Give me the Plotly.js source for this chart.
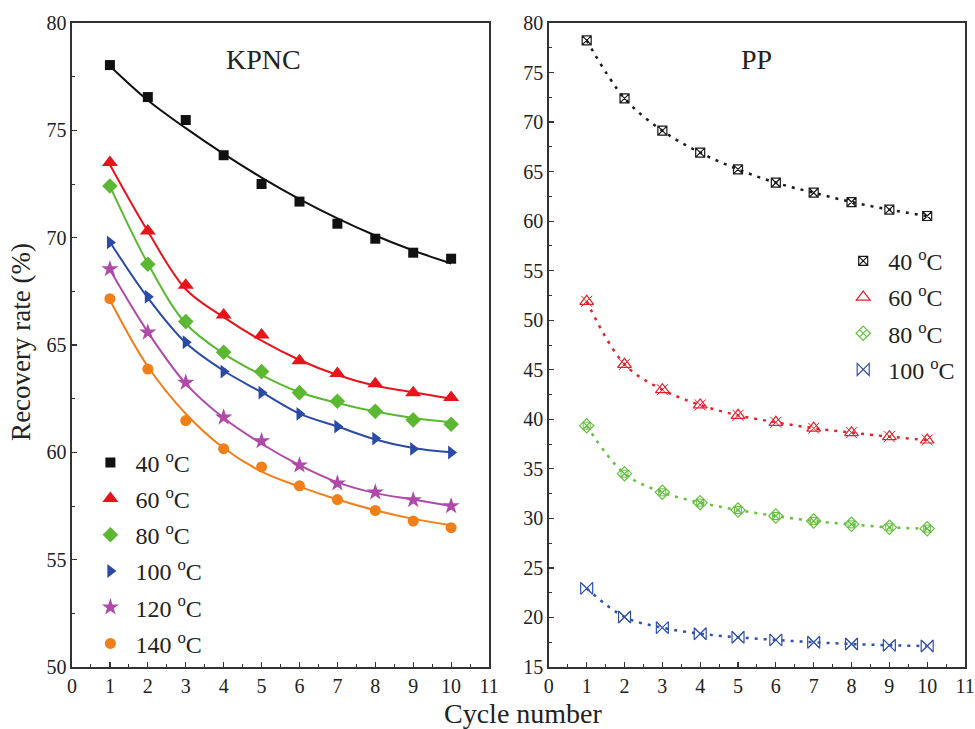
<!DOCTYPE html>
<html><head><meta charset="utf-8">
<script src="https://cdn.plot.ly/plotly-3.0.1.min.js"></script>
<style>body{margin:0;background:#fff}#c{width:975px;height:729px}</style>
</head><body><div id="c"></div>
<script>
var cycles = [1,2,3,4,5,6,7,8,9,10];
var kpncLabels = ['40 <sup>o</sup>C','60 <sup>o</sup>C','80 <sup>o</sup>C','100 <sup>o</sup>C','120 <sup>o</sup>C','140 <sup>o</sup>C'];
var kpnc40  = [78.04,76.55,75.48,73.84,72.50,71.68,70.65,69.95,69.30,69.02];
var kpnc60  = [73.50,70.31,67.78,66.40,65.47,64.27,63.67,63.20,62.77,62.55];
var kpnc80  = [72.41,68.76,66.09,64.66,63.76,62.78,62.38,61.91,61.51,61.31];
var kpnc100 = [69.78,67.25,65.13,63.76,62.78,61.79,61.20,60.64,60.16,59.99];
var kpnc120 = [68.54,65.59,63.25,61.63,60.53,59.40,58.56,58.14,57.78,57.50];
var kpnc140 = [67.16,63.88,61.48,60.17,59.32,58.44,57.80,57.29,56.80,56.49];
// fitted curves
var fit40  = [78.0,76.4,75.1,73.9,72.8,71.8,70.9,70.1,69.4,68.8];
var fit60  = [73.4,70.3,67.6,66.3,65.2,64.3,63.6,63.1,62.8,62.5];
var fit80  = [72.4,68.8,66.0,64.6,63.6,62.8,62.3,61.9,61.6,61.4];
var fit100 = [69.8,67.2,65.1,63.8,62.8,61.8,61.2,60.6,60.2,60.0];
var fit120 = [68.5,65.6,63.2,61.6,60.4,59.4,58.6,58.1,57.8,57.5];
var fit140 = [67.1,64.0,61.8,60.2,59.1,58.4,57.8,57.3,56.9,56.6];
var ppLabels = ['40 <sup>o</sup>C','60 <sup>o</sup>C','80 <sup>o</sup>C','100 <sup>o</sup>C'];
var pp40  = [78.25,72.40,69.13,66.91,65.23,63.88,62.87,61.93,61.16,60.52];
var pp60  = [51.91,45.55,42.99,41.45,40.40,39.70,39.10,38.65,38.25,37.91];
var pp80  = [39.36,34.51,32.63,31.59,30.85,30.24,29.74,29.40,29.10,28.96];
var pp100 = [22.94,20.05,18.97,18.36,18.00,17.73,17.50,17.32,17.19,17.12];

var F = 'Liberation Serif, Times New Roman, serif';
var kCols = ['#111111','#e8141c','#5cb832','#2a4aa8','#b04aa8','#f07f1a'];
var kSyms = ['square','triangle-up','diamond','triangle-right','star','circle'];
var kSizes = [10,14,12,12,13,11];
var kData = [kpnc40,kpnc60,kpnc80,kpnc100,kpnc120,kpnc140];
var kFits = [fit40,fit60,fit80,fit100,fit120,fit140];
var traces = [];
for (var i=0;i<6;i++){
  traces.push({x:cycles,y:kFits[i],mode:'lines',line:{color:kCols[i],width:2,shape:'spline'},showlegend:false,xaxis:'x',yaxis:'y',hoverinfo:'skip'});
}
for (var i=0;i<6;i++){
  traces.push({x:cycles,y:kData[i],mode:'markers',name:kpncLabels[i],legendgroup:'k'+i,
    marker:{symbol:kSyms[i],size:kSizes[i],color:kCols[i]},xaxis:'x',yaxis:'y',legend:'legend'});
}
var pCols = ['#1a1a1a','#e8202a','#66c040','#3050b0'];
var pSyms = ['square-x-open','triangle-up-open','diamond-x-open','bowtie-open'];
var pOver = [null,'x-thin-open','square-x-open','x-thin-open'];
var pData = [pp40,pp60,pp80,pp100];
for (var i=0;i<4;i++){
  traces.push({x:cycles,y:pData[i],mode:'lines',line:{color:pCols[i],width:2.5,dash:'3px,6px',shape:'spline'},showlegend:false,xaxis:'x2',yaxis:'y2',hoverinfo:'skip'});
}
for (var i=0;i<4;i++){
  if (pOver[i]) traces.push({x:cycles,y:pData[i],mode:'markers',showlegend:false,
    marker:{symbol:pOver[i],size:i==2?7:11,color:pCols[i],line:{width:1,color:pCols[i]}},xaxis:'x2',yaxis:'y2'});
  traces.push({x:cycles,y:pData[i],mode:'markers',name:ppLabels[i],legendgroup:'p'+i,
    marker:{symbol:pSyms[i],size:i==0?9:(i==2?11:12),color:pCols[i],line:{width:1.2,color:pCols[i]}},xaxis:'x2',yaxis:'y2',legend:'legend2'});
}

function xa(dom){return {domain:dom,range:[0,11],tick0:0,dtick:1,ticks:'inside',ticklen:5,tickwidth:1.2,tickcolor:'#333',
  minor:{dtick:0.5,ticks:'inside',ticklen:3,tickwidth:1,tickcolor:'#333'},
  showline:true,linecolor:'#333',linewidth:1.6,mirror:true,showgrid:false,zeroline:false,
  tickfont:{family:F,size:20,color:'#222'}};}
function ya(r,anchor){return {range:r,dtick:5,ticks:'inside',ticklen:5,tickwidth:1.2,tickcolor:'#333',anchor:anchor,
  minor:{dtick:2.5,ticks:'inside',ticklen:3,tickwidth:1,tickcolor:'#333'},
  showline:true,linecolor:'#333',linewidth:1.6,mirror:true,showgrid:false,zeroline:false,
  tickfont:{family:F,size:20,color:'#222'}};}

var layout = {
  width:975,height:729,margin:{l:72,r:10,t:23,b:62},paper_bgcolor:'#fff',plot_bgcolor:'#fff',
  font:{family:F,color:'#222'},
  xaxis:xa([0,0.467]),xaxis2:xa([0.534,1]),
  yaxis:ya([50,80],'x'),yaxis2:ya([15,80],'x2'),
  showlegend:true,
  legend:{x:0.015,y:0.352,xanchor:'left',yanchor:'top',bgcolor:'rgba(0,0,0,0)',font:{family:F,size:24,color:'#222'},
    traceorder:'grouped',tracegroupgap:2,itemwidth:40},
  legend2:{x:0.858,y:0.665,xanchor:'left',yanchor:'top',bgcolor:'rgba(0,0,0,0)',font:{family:F,size:24,color:'#222'},
    traceorder:'grouped',tracegroupgap:2,itemwidth:40},
  annotations:[
    {text:'KPNC',xref:'x',yref:'paper',x:5.05,y:0.97,showarrow:false,font:{family:F,size:28,color:'#222'}},
    {text:'PP',xref:'x2',yref:'paper',x:5.5,y:0.97,showarrow:false,font:{family:F,size:28,color:'#222'}},
    {text:'Recovery rate (%)',xref:'paper',yref:'paper',x:-0.057,y:0.505,xanchor:'center',yanchor:'middle',textangle:-90,showarrow:false,font:{family:F,size:27,color:'#222'}},
    {text:'Cycle number',xref:'paper',yref:'paper',x:0.506,y:-0.072,xanchor:'center',yanchor:'middle',showarrow:false,font:{family:F,size:28,color:'#222'}}
  ]
};
Plotly.newPlot('c',traces,layout,{displayModeBar:false,staticPlot:true});
</script></body></html>
